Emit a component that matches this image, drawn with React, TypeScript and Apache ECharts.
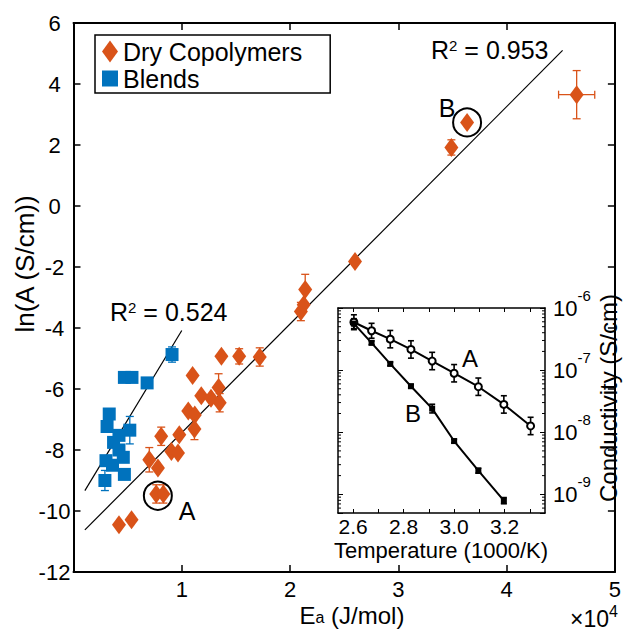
import React, { useEffect, useRef } from 'react';
import * as echarts from 'echarts';

const FONT = '"Liberation Sans", Arial, Helvetica, sans-serif';
const ORANGE = '#D95319';
const BLUE = '#0072BD';

// ---- main plot data (Ea in units of 1e4 J/mol, ln(A) in ln(S/cm)) ----
const copolymerEa = [0.42, 0.536, 0.764, 0.83, 0.70, 0.78, 0.81, 0.904, 0.965, 0.977, 1.06, 1.12, 1.117, 1.10, 1.18, 1.27, 1.34, 1.35, 1.366, 1.53, 1.72, 2.10, 2.126, 2.14, 2.60, 3.49, 3.635, 4.647];
const copolymerLnA = [-10.45, -10.29, -9.44, -9.44, -8.32, -8.59, -7.55, -8.05, -8.10, -7.50, -6.72, -6.85, -7.31, -5.56, -6.22, -6.30, -5.95, -6.45, -4.93, -4.93, -4.95, -3.46, -3.24, -2.74, -1.82, 1.92, 2.74, 3.65];
const copolymerLnAErr = [0, 0, 0.3, 0.3, 0.4, 0, 0.3, 0, 0, 0, 0, 0, 0.35, 0, 0, 0, 0.45, 0.3, 0, 0.25, 0.3, 0.3, 0, 0.5, 0.1, 0.25, 0.1, 0.79];
const copolymerEaErr = [0, 0, 0, 0, 0, 0, 0, 0, 0, 0, 0, 0, 0, 0, 0, 0, 0, 0, 0, 0, 0, 0, 0, 0, 0, 0, 0, 0.167];

const blendEa = [0.91, 0.47, 0.54, 0.68, 0.33, 0.31, 0.52, 0.42, 0.37, 0.42, 0.46, 0.30, 0.36, 0.47, 0.29];
const blendLnA = [-4.87, -5.62, -5.62, -5.80, -6.82, -7.23, -7.35, -7.52, -7.75, -8.0, -8.24, -8.35, -8.50, -8.80, -9.00];
const blendLnAErr = [0.25, 0, 0, 0, 0, 0, 0.45, 0, 0, 0, 0, 0, 0, 0, 0.33];

const copolymerFitEa = [0.105, 4.517];
const copolymerFitLnA = [-10.62, 5.10];
const blendFitEa = [0.105, 1.0];
const blendFitLnA = [-9.33, -4.08];

const highlightEa = [0.779, 3.635];
const highlightLnA = [-9.50, 2.74];

// ---- inset data ----
const tempA = [2.603, 2.673, 2.747, 2.829, 2.913, 3.0, 3.096, 3.197, 3.303];
const condA = [5.9e-7, 4.3e-7, 3.15e-7, 2.15e-7, 1.4e-7, 8.9e-8, 5.4e-8, 2.8e-8, 1.26e-8];
const condAErrDecades = [0.12, 0.12, 0.14, 0.14, 0.14, 0.14, 0.14, 0.14, 0.14];
const tempB = [2.603, 2.673, 2.747, 2.829, 2.913, 3.0, 3.096, 3.197];
const condB = [5.6e-7, 2.75e-7, 1.26e-7, 5.5e-8, 2.4e-8, 7.2e-9, 2.4e-9, 7.9e-10];
const condBErrDecades = [0.08, 0.03, 0.03, 0.03, 0.07, 0.03, 0.04, 0.05];

const insetTickValues = [2.6, 2.7, 2.8, 2.9, 3.0, 3.1, 3.2, 3.3];
const insetLabelValues = [2.6, 2.8, 3.0, 3.2];
const INSET_X_MIN = 2.54;
const INSET_X_MAX = 3.36;
const INSET_Y_MIN = 5e-10;
const INSET_Y_MAX = 1e-6;

const minorLogTicks: number[] = [];
for (let e = -10; e <= -7; e++) {
  for (let k = 2; k <= 9; k++) {
    const v = k * Math.pow(10, e);
    if (v > INSET_Y_MIN && v < INSET_Y_MAX) minorLogTicks.push(v);
  }
}

const zip = (a: number[], b: number[]) => a.map((v, i) => [v, b[i]]);

function linErrRender(color: string, cap: number) {
  return (params: any, api: any) => {
    const x = api.value(0), y = api.value(1), ye = api.value(2), xe = api.value(3);
    const style = { stroke: color, lineWidth: 1.3 };
    const children: any[] = [];
    if (ye > 0) {
      const t = api.coord([x, y + ye]);
      const b = api.coord([x, y - ye]);
      children.push({ type: 'line', shape: { x1: t[0], y1: t[1], x2: b[0], y2: b[1] }, style });
      children.push({ type: 'line', shape: { x1: t[0] - cap, y1: t[1], x2: t[0] + cap, y2: t[1] }, style });
      children.push({ type: 'line', shape: { x1: b[0] - cap, y1: b[1], x2: b[0] + cap, y2: b[1] }, style });
    }
    if (xe > 0) {
      const l = api.coord([x - xe, y]);
      const r = api.coord([x + xe, y]);
      children.push({ type: 'line', shape: { x1: l[0], y1: l[1], x2: r[0], y2: r[1] }, style });
      children.push({ type: 'line', shape: { x1: l[0], y1: l[1] - cap, x2: l[0], y2: l[1] + cap }, style });
      children.push({ type: 'line', shape: { x1: r[0], y1: r[1] - cap, x2: r[0], y2: r[1] + cap }, style });
    }
    return { type: 'group', children };
  };
}

function logErrRender(color: string, cap: number) {
  return (params: any, api: any) => {
    const x = api.value(0), v = api.value(1), d = api.value(2);
    const style = { stroke: color, lineWidth: 1.6 };
    const t = api.coord([x, v * Math.pow(10, d)]);
    const b = api.coord([x, v * Math.pow(10, -d)]);
    return {
      type: 'group',
      children: [
        { type: 'line', shape: { x1: t[0], y1: t[1], x2: b[0], y2: b[1] }, style },
        { type: 'line', shape: { x1: t[0] - cap, y1: t[1], x2: t[0] + cap, y2: t[1] }, style },
        { type: 'line', shape: { x1: b[0] - cap, y1: b[1], x2: b[0] + cap, y2: b[1] }, style },
      ],
    };
  };
}

function minorTickRender(params: any, api: any) {
  const cs = params.coordSys;
  const p = api.coord([api.value(0), api.value(1)]);
  const style = { stroke: '#000', lineWidth: 1 };
  return {
    type: 'group',
    children: [
      { type: 'line', shape: { x1: cs.x, y1: p[1], x2: cs.x + 3, y2: p[1] }, style },
      { type: 'line', shape: { x1: cs.x + cs.width - 3, y1: p[1], x2: cs.x + cs.width, y2: p[1] }, style },
    ],
  };
}

const mainAxisLine = { show: true, onZero: false, lineStyle: { color: '#000', width: 2 } };
const mainTick = { show: true, inside: true, length: 7, lineStyle: { color: '#000', width: 1.5 } };
const insetAxisLine = { show: true, onZero: false, lineStyle: { color: '#000', width: 1.5 } };

const logLabelFormatter = (v: number) => {
  const e = Math.log10(v);
  const r = Math.round(e);
  if (Math.abs(e - r) > 1e-6) return '';
  return `{b|10}{s|${r}}`;
};

const centered = { textAlign: 'center', textVerticalAlign: 'middle', align: 'center', verticalAlign: 'middle' };
const leftMid = { textAlign: 'left', textVerticalAlign: 'middle', align: 'left', verticalAlign: 'middle' };

function buildOption(): any {
  return {
    animation: false,
    backgroundColor: '#fff',
    textStyle: { fontFamily: FONT, color: '#000' },
    grid: [
      { left: 73.5, top: 23, width: 548.5, height: 549, show: false },
      { left: 338, top: 308, width: 207, height: 205, show: true, backgroundColor: '#fff', borderWidth: 0 },
    ],
    legend: {
      show: true,
      orient: 'vertical',
      left: 95,
      top: 35,
      selectedMode: false,
      data: [
        { name: 'Dry Copolymers', icon: 'diamond' },
        { name: 'Blends', icon: 'path://M0 0H10V10H0Z' },
      ],
      itemWidth: 16,
      itemHeight: 22,
      itemGap: 2,
      padding: [4, 28, 2, 7],
      borderColor: '#000',
      borderWidth: 1.5,
      backgroundColor: '#fff',
      textStyle: { fontSize: 25, color: '#000', fontFamily: FONT },
    },
    xAxis: [
      {
        gridIndex: 0, type: 'value', min: 0, max: 5, interval: 1, position: 'bottom',
        axisLine: mainAxisLine, axisTick: mainTick, splitLine: { show: false },
        axisLabel: { color: '#000', fontSize: 22, fontFamily: FONT, margin: 6, formatter: (v: number) => (v === 0 ? '' : String(v)) },
      },
      {
        gridIndex: 0, type: 'value', min: 0, max: 5, interval: 1, position: 'top',
        axisLine: mainAxisLine, axisTick: mainTick, splitLine: { show: false }, axisLabel: { show: false },
      },
      {
        gridIndex: 1, type: 'value', min: INSET_X_MIN, max: INSET_X_MAX, position: 'bottom',
        axisLine: insetAxisLine, splitLine: { show: false },
        axisTick: { show: true, inside: true, length: 4, customValues: insetTickValues, lineStyle: { color: '#000', width: 1 } },
        axisLabel: { color: '#000', fontSize: 21, fontFamily: FONT, margin: 3, customValues: insetLabelValues, formatter: (v: number) => v.toFixed(1) },
      },
      {
        gridIndex: 1, type: 'value', min: INSET_X_MIN, max: INSET_X_MAX, position: 'top',
        axisLine: insetAxisLine, splitLine: { show: false },
        axisTick: { show: true, inside: true, length: 4, customValues: insetTickValues, lineStyle: { color: '#000', width: 1 } },
        axisLabel: { show: false },
      },
    ],
    yAxis: [
      {
        gridIndex: 0, type: 'value', min: -12, max: 6, interval: 2, position: 'left',
        axisLine: mainAxisLine, axisTick: mainTick, splitLine: { show: false },
        axisLabel: { color: '#000', fontSize: 22, fontFamily: FONT, margin: 19, align: 'center' },
      },
      {
        gridIndex: 0, type: 'value', min: -12, max: 6, interval: 2, position: 'right',
        axisLine: mainAxisLine, axisTick: mainTick, splitLine: { show: false }, axisLabel: { show: false },
      },
      {
        gridIndex: 1, type: 'log', logBase: 10, min: INSET_Y_MIN, max: INSET_Y_MAX, position: 'right',
        axisLine: insetAxisLine, splitLine: { show: false }, minorTick: { show: false },
        axisTick: { show: true, inside: true, length: 5, lineStyle: { color: '#000', width: 1 } },
        axisLabel: {
          margin: 8,
          formatter: logLabelFormatter,
          rich: {
            b: { fontSize: 22, color: '#000', fontFamily: FONT, lineHeight: 40 },
            s: { fontSize: 15, color: '#000', fontFamily: FONT, lineHeight: 12, verticalAlign: 'top' },
          },
        },
      },
      {
        gridIndex: 1, type: 'log', logBase: 10, min: INSET_Y_MIN, max: INSET_Y_MAX, position: 'left',
        axisLine: insetAxisLine, splitLine: { show: false }, minorTick: { show: false },
        axisTick: { show: true, inside: true, length: 5, lineStyle: { color: '#000', width: 1 } },
        axisLabel: { show: false },
      },
    ],
    series: [
      {
        type: 'line', name: 'fitCopolymer', xAxisIndex: 0, yAxisIndex: 0, silent: true,
        data: zip(copolymerFitEa, copolymerFitLnA), symbol: 'none', lineStyle: { color: '#000', width: 1.2 }, z: 2,
      },
      {
        type: 'line', name: 'fitBlend', xAxisIndex: 0, yAxisIndex: 0, silent: true,
        data: zip(blendFitEa, blendFitLnA), symbol: 'none', lineStyle: { color: '#000', width: 1.2 }, z: 2,
      },
      {
        type: 'custom', name: 'errCopolymer', xAxisIndex: 0, yAxisIndex: 0, silent: true, z: 3,
        encode: { x: 0, y: 1 },
        data: copolymerEa.map((x, i) => [x, copolymerLnA[i], copolymerLnAErr[i], copolymerEaErr[i]]),
        renderItem: linErrRender(ORANGE, 4),
      },
      {
        type: 'custom', name: 'errBlend', xAxisIndex: 0, yAxisIndex: 0, silent: true, z: 3,
        encode: { x: 0, y: 1 },
        data: blendEa.map((x, i) => [x, blendLnA[i], blendLnAErr[i], 0]),
        renderItem: linErrRender(BLUE, 4),
      },
      {
        type: 'scatter', name: 'Dry Copolymers', xAxisIndex: 0, yAxisIndex: 0, silent: true, z: 4,
        data: zip(copolymerEa, copolymerLnA), symbol: 'diamond', symbolSize: [14, 19],
        itemStyle: { color: ORANGE, opacity: 1 },
      },
      {
        type: 'scatter', name: 'Blends', xAxisIndex: 0, yAxisIndex: 0, silent: true, z: 4,
        data: zip(blendEa, blendLnA), symbol: 'rect', symbolSize: 13,
        itemStyle: { color: BLUE, opacity: 1 },
      },
      {
        type: 'scatter', name: 'highlight', xAxisIndex: 0, yAxisIndex: 0, silent: true, z: 5,
        data: zip(highlightEa, highlightLnA), symbol: 'circle', symbolSize: 28,
        itemStyle: { color: 'rgba(0,0,0,0)', borderColor: '#000', borderWidth: 2, opacity: 1 },
      },
      {
        type: 'custom', name: 'minorTicks', xAxisIndex: 2, yAxisIndex: 2, silent: true, z: 6,
        encode: { x: 0, y: 1 },
        data: minorLogTicks.map((v) => [2.9, v]),
        renderItem: minorTickRender,
      },
      {
        type: 'custom', name: 'errA', xAxisIndex: 2, yAxisIndex: 2, silent: true, z: 6,
        encode: { x: 0, y: 1 },
        data: tempA.map((x, i) => [x, condA[i], condAErrDecades[i]]),
        renderItem: logErrRender('#000', 3),
      },
      {
        type: 'custom', name: 'errB', xAxisIndex: 2, yAxisIndex: 2, silent: true, z: 6,
        encode: { x: 0, y: 1 },
        data: tempB.map((x, i) => [x, condB[i], condBErrDecades[i]]),
        renderItem: logErrRender('#000', 3),
      },
      {
        type: 'line', name: 'A', xAxisIndex: 2, yAxisIndex: 2, silent: true, z: 7,
        data: zip(tempA, condA), symbol: 'emptyCircle', symbolSize: 7,
        lineStyle: { color: '#000', width: 2 }, itemStyle: { color: '#000', borderColor: '#000', borderWidth: 1.5 },
      },
      {
        type: 'line', name: 'B', xAxisIndex: 2, yAxisIndex: 2, silent: true, z: 7,
        data: zip(tempB, condB), symbol: 'rect', symbolSize: 6,
        lineStyle: { color: '#000', width: 2 }, itemStyle: { color: '#000' },
      },
    ],
    graphic: [
      {
        type: 'text', x: 25, y: 264, rotation: Math.PI / 2,
        style: { text: 'ln(A (S/cm))', fontSize: 26, fontFamily: FONT, fill: '#000', ...centered },
      },
      {
        type: 'text', x: 352, y: 615,
        style: {
          text: '{b|E}{s|a}{b| (J/mol)}', fill: '#000', ...centered,
          rich: {
            b: { fontSize: 24, fontFamily: FONT, fill: '#000', color: '#000', lineHeight: 20 },
            s: { fontSize: 16, fontFamily: FONT, fill: '#000', color: '#000', lineHeight: 12, verticalAlign: 'bottom' },
          },
        },
      },
      {
        type: 'text', x: 570, y: 619,
        style: { text: '×10', fontSize: 23, fontFamily: FONT, fill: '#000', ...leftMid },
      },
      {
        type: 'text', x: 609, y: 611,
        style: { text: '4', fontSize: 16, fontFamily: FONT, fill: '#000', ...leftMid },
      },
      {
        type: 'text', x: 431, y: 50,
        style: {
          text: '{b|R}{s|2}{b| = 0.953}', fill: '#000', ...leftMid,
          rich: {
            b: { fontSize: 25, fontFamily: FONT, fill: '#000', color: '#000', lineHeight: 24 },
            s: { fontSize: 15, fontFamily: FONT, fill: '#000', color: '#000', lineHeight: 15, verticalAlign: 'top' },
          },
        },
      },
      {
        type: 'text', x: 110, y: 312,
        style: {
          text: '{b|R}{s|2}{b| = 0.524}', fill: '#000', ...leftMid,
          rich: {
            b: { fontSize: 25, fontFamily: FONT, fill: '#000', color: '#000', lineHeight: 24 },
            s: { fontSize: 15, fontFamily: FONT, fill: '#000', color: '#000', lineHeight: 15, verticalAlign: 'top' },
          },
        },
      },
      {
        type: 'text', x: 187, y: 511,
        style: { text: 'A', fontSize: 25, fontFamily: FONT, fill: '#000', ...centered },
      },
      {
        type: 'text', x: 447, y: 108,
        style: { text: 'B', fontSize: 25, fontFamily: FONT, fill: '#000', ...centered },
      },
      {
        type: 'text', x: 470, y: 358, z: 100,
        style: { text: 'A', fontSize: 24, fontFamily: FONT, fill: '#000', ...centered },
      },
      {
        type: 'text', x: 413, y: 413, z: 100,
        style: { text: 'B', fontSize: 24, fontFamily: FONT, fill: '#000', ...centered },
      },
      {
        type: 'text', x: 441, y: 550,
        style: { text: 'Temperature (1000/K)', fontSize: 22, fontFamily: FONT, fill: '#000', ...centered },
      },
      {
        type: 'text', x: 608, y: 398, rotation: Math.PI / 2,
        style: { text: 'Conductivity (S/cm)', fontSize: 24, fontFamily: FONT, fill: '#000', ...centered },
      },
    ],
  };
}

export default function App() {
  const ref = useRef<HTMLDivElement>(null);
  useEffect(() => {
    if (!ref.current) return;
    const chart = echarts.init(ref.current, null, { renderer: 'svg' });
    chart.setOption(buildOption());
    return () => chart.dispose();
  }, []);
  return (
    <div
      ref={ref}
      style={{ position: 'fixed', left: 0, top: 0, width: 624, height: 631, background: '#fff' }}
    />
  );
}
